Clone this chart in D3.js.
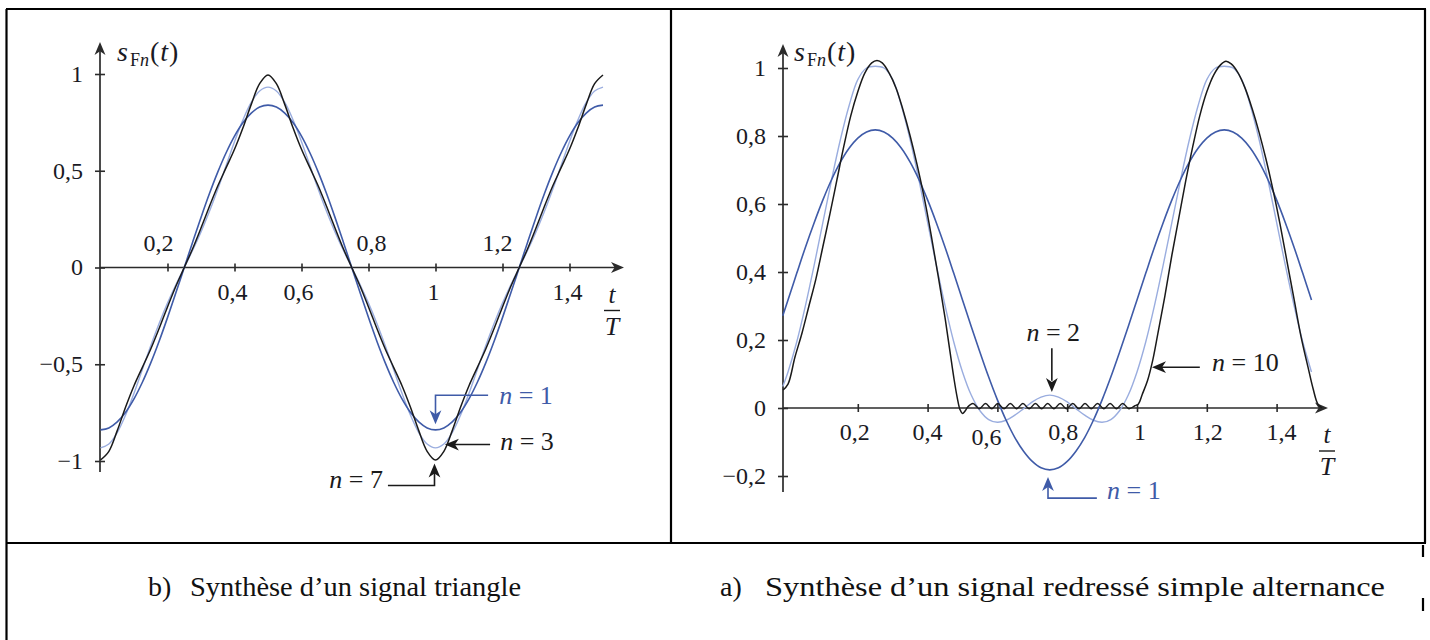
<!DOCTYPE html>
<html>
<head>
<meta charset="utf-8">
<script src="https://cdn.jsdelivr.net/npm/d3@7"></script>
<style>
  html, body { margin: 0; padding: 0; background: #fff; }
  svg { display: block; }
  text { font-family: "Liberation Serif", "Times New Roman", serif; fill: #1a1a24; }
</style>
</head>
<body>
<svg id="fig" width="1430" height="640"></svg>
<script>
// ---- données ----

// b) signal triangle : abscisses t/T et sommes partielles
const triTicksX = [0.2, 0.4, 0.6, 0.8, 1, 1.2, 1.4];
const triTicksY = [-1, -0.5, 0, 0.5, 1];
const triT = d3.range(0, 1.5001, 0.025);
const tri1 = [-.839, -.829, -.798, -.748, -.679, -.593, -.493, -.381, -.259, -.131, 0, .131, .259, .381, .493, .593, .679, .748, .798, .829, .839,
  .829, .798, .748, .679, .593, .493, .381, .259, .131, 0, -.131, -.259, -.381, -.493, -.593, -.679, -.748, -.798, -.829, -.839,
  -.829, -.798, -.748, -.679, -.593, -.493, -.381, -.259, -.131, 0, .131, .259, .381, .493, .593, .679, .748, .798, .829, .839];
const tri3 = [-.932, -.912, -.853, -.762, -.650, -.527, -.404, -.289, -.184, -.089, 0, .089, .184, .289, .404, .527, .650, .762, .853, .912, .932,
  .912, .853, .762, .650, .527, .404, .289, .184, .089, 0, -.089, -.184, -.289, -.404, -.527, -.650, -.762, -.853, -.912, -.932,
  -.912, -.853, -.762, -.650, -.527, -.404, -.289, -.184, -.089, 0, .089, .184, .289, .404, .527, .650, .762, .853, .912, .932];
const tri7 = [-.995, -.950, -.843, -.721, -.611, -.516, -.421, -.315, -.204, -.097, 0, .097, .204, .315, .421, .516, .611, .721, .843, .950, .995,
  .950, .843, .721, .611, .516, .421, .315, .204, .097, 0, -.097, -.204, -.315, -.421, -.516, -.611, -.721, -.843, -.950, -.995,
  -.950, -.843, -.721, -.611, -.516, -.421, -.315, -.204, -.097, 0, .097, .204, .315, .421, .516, .611, .721, .843, .950, .995];

// a) signal redressé simple alternance
const redTicksX = [0.2, 0.4, 0.6, 0.8, 1, 1.2, 1.4];
const redTicksY = [-0.2, 0, 0.2, 0.4, 0.6, 0.8, 1];
const redT = [-0.015].concat(d3.range(0, 1.5001, 0.025));
const red1 = [.271, .318, .396, .473, .545, .612, .672, .723, .764, .794, .812, .818, .812, .794, .764, .723, .672, .612, .545, .473, .396, .318,
  .240, .164, .091, .024, -.036, -.087, -.127, -.157, -.176, -.182, -.176, -.157, -.127, -.087, -.036, .024, .091, .164, .240, .318,
  .396, .473, .545, .612, .672, .723, .764, .794, .812, .818, .812, .794, .764, .723, .672, .612, .545, .473, .396, .318];
const red2 = [.063, .106, .194, .301, .420, .546, .672, .789, .889, .966, 1.0, 1.005, 1.0, .966, .889, .789, .672, .546, .420, .301, .194, .106,
  .038, -.008, -.034, -.042, -.036, -.021, -.002, .018, .032, .038, .032, .018, -.002, -.021, -.036, -.042, -.034, -.008, .038, .106,
  .194, .301, .420, .546, .672, .789, .889, .966, 1.0, 1.005, 1.0, .966, .889, .789, .672, .546, .420, .301, .194, .106];
const red10T = [-0.014, 0, .02, .04, .06, .08, .1, .12, .14, .16, .18, .2, .22, .24, .255, .27, .29, .31, .33, .35, .37, .39, .41, .43, .45, .465, .475, .485, .493, .5, .508, .515,
  .530, .548, .566, .584, .601, .619, .637, .655, .673, .691, .709, .727, .744, .762, .780, .798, .816, .834, .851, .869, .887, .905, .923, .941, .959, .977, .993,
  1.004, 1.015, 1.03, 1.045, 1.06, 1.08, 1.1, 1.12, 1.14, 1.16, 1.18, 1.2, 1.22, 1.24, 1.255, 1.27, 1.29, 1.31, 1.33, 1.35, 1.37, 1.39, 1.41, 1.43, 1.45, 1.47, 1.49, 1.505, 1.518, 1.53];
const red10 = [.053, .07, .15, .22, .30, .38, .475, .57, .67, .77, .86, .93, .985, 1.015, 1.022, 1.015, .985, .94, .875, .80, .715, .62, .51, .39, .265, .16, .09, .03, -.005, -.016, -.008, .003,
  .013, -.002, .013, -.002, .013, -.002, .013, -.002, .013, -.002, .013, -.002, .013, -.002, .013, -.002, .013, -.002, .013, -.002, .013, -.002, .013, -.002, .013, -.002, .006,
  .012, .04, .08, .14, .22, .33, .45, .56, .67, .77, .86, .93, .98, 1.01, 1.02, 1.012, .985, .94, .88, .81, .73, .64, .54, .43, .32, .21, .12, .055, .012, 0];

const captions = [
  { tag: "b)", text: "Synthèse d’un signal triangle" },
  { tag: "a)", text: "Synthèse d’un signal redressé simple alternance" }
];

// ---- styles ----
const darkBlue = "#3f5ba8";
const lightBlue = "#9aaddf";
const ink = "#1a1a1a";
const axisColor = "#2b2b2b";

const svg = d3.select("#fig");
const fmt = v => (v < 0 ? "\u2212" : "") + String(Math.abs(v)).replace(".", ",");

function arrowHead(x, y, angle, size, color) {
  const L = size, W = size * 0.42;
  svg.append("path")
    .attr("d", `M0,0L${-L},${-W}L${-L * 0.72},0L${-L},${W}Z`)
    .attr("transform", `translate(${x},${y}) rotate(${angle})`)
    .attr("fill", color);
}

function sLabel(x, y) {
  const t = svg.append("text").attr("x", x).attr("y", y).style("font-size", "28px");
  t.append("tspan").text("s").style("font-style", "italic");
  t.append("tspan").text("F").attr("dx", 2).attr("dy", 5).style("font-size", "18px");
  t.append("tspan").text("n").style("font-size", "18px").style("font-style", "italic");
  t.append("tspan").text("(").attr("dx", 1).attr("dy", -5);
  t.append("tspan").text("t").attr("dx", 1).style("font-style", "italic");
  t.append("tspan").text(")").attr("dx", 1);
}

function tOverT(cx, axisY) {
  svg.append("text").attr("x", cx).attr("y", axisY + 35).attr("text-anchor", "middle")
    .style("font-size", "25px").style("font-style", "italic").text("t");
  svg.append("line").attr("x1", cx - 8).attr("x2", cx + 8).attr("y1", axisY + 43).attr("y2", axisY + 43)
    .attr("stroke", ink).attr("stroke-width", 1.4);
  svg.append("text").attr("x", cx).attr("y", axisY + 67).attr("text-anchor", "middle")
    .style("font-size", "26px").style("font-style", "italic").text("T");
}

function nLabel(x, y, n, color, anchor) {
  const t = svg.append("text").attr("x", x).attr("y", y).attr("dy", "0.35em")
    .attr("text-anchor", anchor || "start").style("font-size", "26px").style("fill", color);
  t.append("tspan").text("n").style("font-style", "italic");
  t.append("tspan").text(" = " + n);
}

function axes(x, y, o) {
  const y0 = y(0), xa = o.axisX;
  // graduations via les axes d3
  const gx = svg.append("g").attr("transform", `translate(0,${y0})`)
    .call(d3.axisBottom(x).tickValues(o.ticksX).tickSize(4).tickFormat(""));
  gx.select(".domain").remove();
  gx.selectAll(".tick line").attr("y1", -4).attr("y2", 4).attr("stroke", axisColor).attr("stroke-width", 1.6);
  const gy = svg.append("g").attr("transform", `translate(${xa},0)`)
    .call(d3.axisLeft(y).tickValues(o.ticksY).tickSize(5).tickFormat(""));
  gy.select(".domain").remove();
  gy.selectAll(".tick line").attr("x1", -5).attr("x2", 5).attr("stroke", axisColor).attr("stroke-width", 1.6);

  svg.append("line").attr("x1", xa).attr("x2", o.xTip - 6).attr("y1", y0).attr("y2", y0)
    .attr("stroke", axisColor).attr("stroke-width", 1.7);
  arrowHead(o.xTip, y0, 0, 13, axisColor);
  svg.append("line").attr("x1", xa).attr("x2", xa).attr("y1", o.yBottom).attr("y2", o.yTip + 6)
    .attr("stroke", axisColor).attr("stroke-width", 1.7);
  arrowHead(xa, o.yTip, -90, 13, axisColor);

  // étiquettes
  svg.append("g").selectAll("text").data(o.ticksX).join("text")
    .attr("x", d => x(d) + (o.dxX[d] || 0))
    .attr("y", d => y0 + (o.dyX[d] || 32))
    .attr("text-anchor", "middle").style("font-size", "24px")
    .text(fmt);
  svg.append("g").selectAll("text").data(o.ticksY).join("text")
    .attr("x", o.yLabelX).attr("y", d => y(d)).attr("dy", "0.33em")
    .attr("text-anchor", "end").style("font-size", "24px")
    .text(fmt);
}

function curve(x, y, ts, vs, color, w) {
  const line = d3.line().x(d => x(d[0])).y(d => y(d[1])).curve(d3.curveCatmullRom.alpha(0.5));
  svg.append("path").datum(d3.zip(ts, vs)).attr("d", line)
    .attr("fill", "none").attr("stroke", color).attr("stroke-width", w)
    .attr("stroke-linejoin", "round");
}

// ---- cadre du tableau ----
const frame = svg.append("g").attr("stroke", "#000").attr("stroke-width", 2.2);
[[6, 9, 1426, 9], [6.5, 9, 6.5, 640], [671, 9, 671, 543], [1425, 9, 1425, 543], [6, 543, 1426, 543],
 [1423, 545, 1423, 557], [1423, 598, 1423, 611]]
  .forEach(([x1, y1, x2, y2]) => frame.append("line").attr("x1", x1).attr("y1", y1).attr("x2", x2).attr("y2", y2));

// ---- b) triangle ----
const xL = d3.scaleLinear([0, 1.5], [100.5, 603]);
const yL = d3.scaleLinear([-1, 1], [461, 74]);
axes(xL, yL, {
  ticksX: triTicksX, ticksY: triTicksY, axisX: 100, xTip: 624, yTip: 42, yBottom: 472, yLabelX: 83,
  dxX: { 0.2: -9, 0.8: 3, 1.2: -5, 0.4: -2, 0.6: -3, 1: -2, 1.4: -2 },
  dyX: { 0.2: -17, 0.8: -17, 1.2: -17 }
});
curve(xL, yL, triT, tri3, lightBlue, 1.4);
curve(xL, yL, triT, tri1, darkBlue, 1.6);
curve(xL, yL, triT, tri7, ink, 1.5);
sLabel(117, 61);
tOverT(612, yL(0));

// annotations
svg.append("polyline").attr("points", [[xL(1.157), yL(-0.66)], [xL(1), yL(-0.66)], [xL(1), yL(-0.79)]].join(" "))
  .attr("fill", "none").attr("stroke", darkBlue).attr("stroke-width", 1.6);
arrowHead(xL(1), yL(-0.81), 90, 14, darkBlue);
nLabel(xL(1.19), yL(-0.66), 1, darkBlue);
svg.append("line").attr("x1", xL(1.163)).attr("x2", xL(1.05)).attr("y1", yL(-0.915)).attr("y2", yL(-0.915))
  .attr("stroke", ink).attr("stroke-width", 1.6);
arrowHead(xL(1.028), yL(-0.915), 180, 14, ink);
nLabel(xL(1.193), yL(-0.894), 3, ink);
svg.append("polyline").attr("points", [[xL(0.858), yL(-1.127)], [xL(0.997), yL(-1.127)], [xL(0.997), yL(-1.05)]].join(" "))
  .attr("fill", "none").attr("stroke", ink).attr("stroke-width", 1.6);
arrowHead(xL(0.997), yL(-1.013), -90, 14, ink);
nLabel(xL(0.843), yL(-1.09), 7, ink, "end");

// ---- a) redressé simple alternance ----
const xR = d3.scaleLinear([0, 1], [788, 1137]);
const yR = d3.scaleLinear([0, 1], [408, 68]);
axes(xR, yR, {
  ticksX: redTicksX, ticksY: redTicksY, axisX: 783, xTip: 1328, yTip: 44, yBottom: 492, yLabelX: 766,
  dxX: { 0.2: -3, 0.4: 0, 0.6: -11, 0.8: -4, 1: 3, 1.2: 1, 1.4: 5 },
  dyX: { 0.6: 37 }
});
curve(xR, yR, redT, red2, lightBlue, 1.4);
curve(xR, yR, redT, red1, darkBlue, 1.6);
curve(xR, yR, red10T, red10, ink, 1.5);
sLabel(794, 61);
tOverT(1327, yR(0));

svg.append("line").attr("x1", xR(0.756)).attr("x2", xR(0.756)).attr("y1", yR(0.176)).attr("y2", yR(0.08))
  .attr("stroke", ink).attr("stroke-width", 1.6);
arrowHead(xR(0.756), yR(0.047), 90, 14, ink);
nLabel(xR(0.76), yR(0.224), 2, ink, "middle");
svg.append("line").attr("x1", xR(1.18)).attr("x2", xR(1.07)).attr("y1", yR(0.12)).attr("y2", yR(0.12))
  .attr("stroke", ink).attr("stroke-width", 1.6);
arrowHead(xR(1.043), yR(0.12), 180, 14, ink);
nLabel(xR(1.215), yR(0.135), 10, ink);
svg.append("polyline").attr("points", [[xR(0.885), yR(-0.265)], [xR(0.745), yR(-0.265)], [xR(0.745), yR(-0.23)]].join(" "))
  .attr("fill", "none").attr("stroke", darkBlue).attr("stroke-width", 1.6);
arrowHead(xR(0.745), yR(-0.203), -90, 14, darkBlue);
nLabel(xR(0.914), yR(-0.241), 1, darkBlue);

// ---- légendes ----
const capX = [[148, 190, 331], [720, 765, 620]];
captions.forEach((c, i) => {
  svg.append("text").attr("x", capX[i][0]).attr("y", 596).style("font-size", "28px").style("fill", "#111").text(c.tag);
  svg.append("text").attr("x", capX[i][1]).attr("y", 596).style("font-size", "28px").style("fill", "#111")
    .attr("textLength", capX[i][2]).attr("lengthAdjust", "spacingAndGlyphs").text(c.text);
});
</script>
</body>
</html>
